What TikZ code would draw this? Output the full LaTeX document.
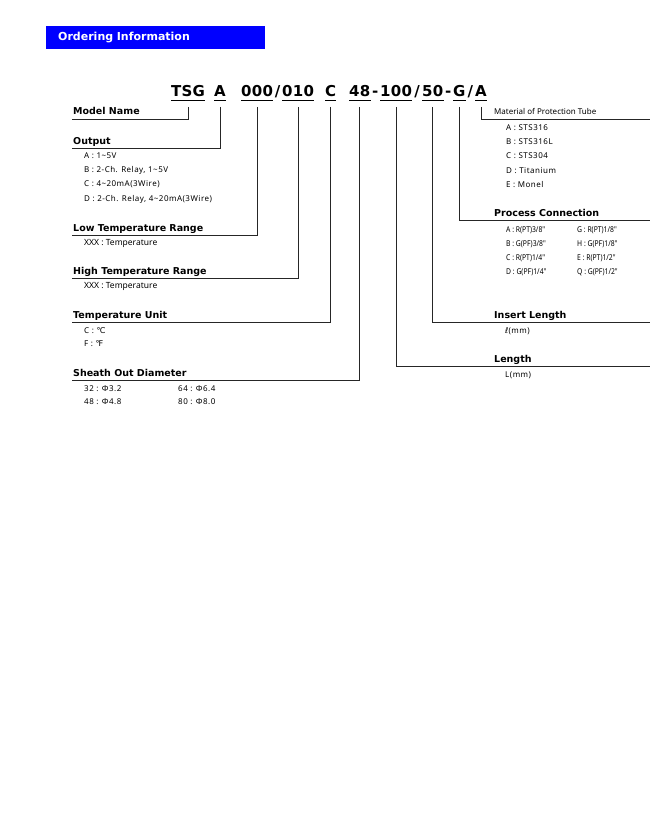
\documentclass[tikz,border=0pt]{standalone}
\usepackage{fontspec}
\setmainfont{Noto Sans}
\newfontfamily\tsgfont{DejaVu Sans}[LetterSpace=1.5]
\newfontfamily\ttlfont{DejaVu Sans}
\newfontfamily\itmfont{Noto Sans}[LetterSpace=6]
\newfontfamily\pcfont{Noto Sans}[FakeStretch=0.85]
\newfontfamily\dvsym{DejaVu Sans}
\usetikzlibrary{positioning,calc}
\definecolor{hdrblue}{RGB}{0,0,255}

\begin{document}
\begin{tikzpicture}[x=1pt,y=-1pt,node distance=0pt]
      \tikzset{hdr/.style={fill=hdrblue,text=white,font=\ttlfont\bfseries\fontsize{11}{13}\selectfont,anchor=north west,text width=195pt,inner xsep=12pt,inner ysep=0pt,minimum height=23pt,align=left},
        code/.style={font=\tsgfont\bfseries\fontsize{15}{15}\selectfont,inner sep=0pt,text height=11pt,text depth=0pt},
        ttl/.style={font=\ttlfont\bfseries\fontsize{9.5}{12}\selectfont,anchor=base west,inner sep=0pt},
        sttl/.style={font=\fontsize{8}{10}\selectfont,anchor=base west,inner sep=0pt},
        itm/.style={font=\itmfont\fontsize{8}{9}\selectfont,anchor=base west,inner sep=0pt},
        xitm/.style={font=\fontsize{8.5}{9}\selectfont,anchor=base west,inner sep=0pt},
        pitm/.style={font=\pcfont\fontsize{8}{9}\selectfont,anchor=base west,inner sep=0pt},
        lnk/.style={draw=black!85,line width=0.9pt}}
      \useasboundingbox (0,0) rectangle (670,840);
      \node[hdr] (hdr) at (46,26) {Ordering Information};
      \node[code,anchor=south west] (tsg) at (171,97) {TSG};\node[code,anchor=south west] (out) at (214,97) {A};\node[code,anchor=south west] (lo) at (241,97) {000};\node[code,anchor=south west] (hi) at (282,97) {010};
      \node[code,anchor=south west] (unit) at (325,97) {C};\node[code,anchor=south west] (dia) at (349,97) {48};\node[code,anchor=south west] (len) at (380,97) {100};
      \node[code,anchor=south west] (ins) at (422,97) {50};\node[code,anchor=south west] (pc) at (453,97) {G};\node[code,anchor=south west] (mat) at (475,97) {A};
      \foreach \a/\b/\c/\s in {lo/hi/s1/\slash,dia/len/d1/-,len/ins/s2/\slash,ins/pc/d2/-,pc/mat/s3/\slash}{\node[code] (\c) at ($(\a.east)!0.5!(\b.west)$) {\s};}
      \foreach \n in {tsg,out,lo,hi,unit,dia,len,ins,pc,mat}{\draw[line width=0.9pt] ([yshift=-3pt]\n.south west)--([yshift=-3pt]\n.south east);}
      \coordinate (mnL) at (72,119);\coordinate (outL) at (72,148);\coordinate (loL) at (72,235);\coordinate (hiL) at (72,278);\coordinate (unitL) at (72,322);\coordinate (diaL) at (72,380);
      \coordinate (matR) at (650,119);\coordinate (pcR) at (650,220);\coordinate (insR) at (650,322);\coordinate (lenR) at (650,366);
      \foreach \a/\b in {tsg/mnL,out/outL,lo/loL,hi/hiL,unit/unitL,dia/diaL,mat/matR,pc/pcR,ins/insR,len/lenR}{\draw[lnk] ([yshift=-10pt]\a.south)|-(\b);}
      \node[ttl] (tmn) at (73,115) {Model Name};\node[ttl] (tout) at (73,144) {Output};\node[ttl] (tlo) at (73,231) {Low Temperature Range};
      \node[ttl] (thi) at (73,274) {High Temperature Range};\node[ttl] (tunit) at (73,318) {Temperature Unit};\node[ttl] (tdia) at (73,376) {Sheath Out Diameter};
      \node[sttl] (tmat) at (494,115) {Material of Protection Tube};\node[ttl] (tpc) at (494,216) {Process Connection};\node[ttl] (tins) at (494,318) {Insert Length};\node[ttl] (tlen) at (494,362) {Length};
      \foreach \t [count=\i] in {{A : 1\textasciitilde5V},{B : 2-Ch. Relay, 1\textasciitilde5V},{C : 4\textasciitilde20mA(3Wire)},{D : 2-Ch. Relay, 4\textasciitilde20mA(3Wire)}}{\node[itm] (o\i) at (84,144+14.3*\i) {\t};}
      \node[xitm] (lo1) at (84,245) {XXX : Temperature};\node[xitm] (hi1) at (84,288) {XXX : Temperature};
      \node[itm] (u1) at (84,333) {C : {\dvsym ℃}};\node[itm] (u2) at (84,346) {F : {\dvsym ℉}};
      \node[itm] (sd1) at (84,391) {32 : Φ3.2};\node[itm] (sd2) at (178,391) {64 : Φ6.4};\node[itm] (sd3) at (84,404) {48 : Φ4.8};\node[itm] (sd4) at (178,404) {80 : Φ8.0};
      \foreach \t [count=\i] in {A : STS316,B : STS316L,C : STS304,D : Titanium,E : Monel}{\node[itm] (m\i) at (506,116+14.3*\i) {\t};}
      \foreach \t/\u [count=\i] in {{A : R(PT)3/8"}/{G : R(PT)1/8"},{B : G(PF)3/8"}/{H : G(PF)1/8"},{C : R(PT)1/4"}/{E : R(PT)1/2"},{D : G(PF)1/4"}/{Q : G(PF)1/2"}}{\node[pitm] (p\i) at (506,218+14*\i) {\t};\node[pitm] (q\i) at (577,218+14*\i) {\u};}
      \node[itm] (ins1) at (505,333) {{\dvsym ℓ}(mm)};\node[itm] (len1) at (505,377) {L(mm)};
    \end{tikzpicture}
\end{document}
